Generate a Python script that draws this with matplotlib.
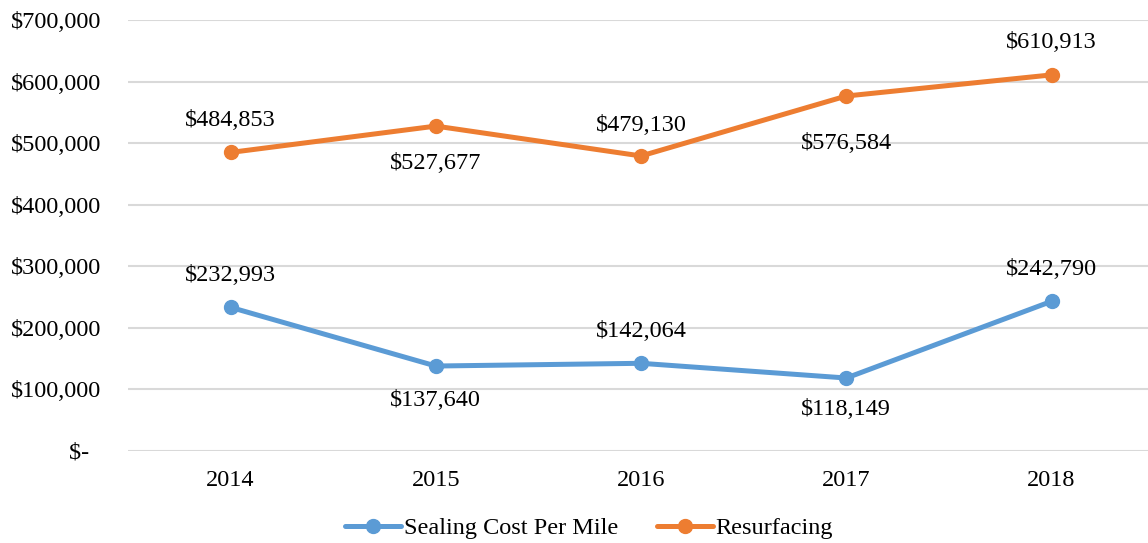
import matplotlib.pyplot as plt
from matplotlib.ticker import FuncFormatter

years = ["2014", "2015", "2016", "2017", "2018"]
sealing = [232993, 137640, 142064, 118149, 242790]
resurfacing = [484853, 527677, 479130, 576584, 610913]

# label offsets in points (above / below each marker)
sealing_offsets = [23, -25, 23, -23, 23]
resurfacing_offsets = [23, -27, 22, -34, 23]

plt.rcParams["font.family"] = ["Liberation Serif", "DejaVu Serif"]
plt.rcParams["font.size"] = 17.5

BLUE = "#5B9BD5"
ORANGE = "#ED7D31"

fig = plt.figure(figsize=(11.48, 5.43), dpi=100)
ax = fig.add_axes([0.1115, 0.170, 0.8885, 0.793])

x = list(range(len(years)))
ax.plot(x, sealing, color=BLUE, lw=3.6, marker="o", markersize=10,
        label="Sealing Cost Per Mile", solid_capstyle="round", zorder=3)
ax.plot(x, resurfacing, color=ORANGE, lw=3.6, marker="o", markersize=10,
        label="Resurfacing", solid_capstyle="round", zorder=3)

for xi, v, off in zip(x, sealing, sealing_offsets):
    ax.annotate(f"${v:,}", (xi, v), xytext=(0, off), textcoords="offset points",
                ha="center", va="center")
for xi, v, off in zip(x, resurfacing, resurfacing_offsets):
    ax.annotate(f"${v:,}", (xi, v), xytext=(0, off), textcoords="offset points",
                ha="center", va="center")

ax.set_ylim(0, 700000)
ax.set_xlim(-0.5, 4.47)
ax.set_yticks(range(0, 700001, 100000))
ax.yaxis.set_major_formatter(FuncFormatter(
    lambda v, p: "$-  " if v == 0 else f"${v:,.0f}"))
ax.set_xticks(x)
ax.set_xticklabels(years)
ax.tick_params(axis="both", length=0)
ax.tick_params(axis="y", pad=19)
ax.tick_params(axis="x", pad=14)

ax.grid(axis="y", color="#D9D9D9", lw=1.5)
ax.set_axisbelow(True)
for s in ax.spines.values():
    s.set_visible(False)

fig.legend(loc="center", bbox_to_anchor=(0.513, 0.027), ncol=2, frameon=False,
           handlelength=2.3, columnspacing=1.6, handletextpad=0.1)

fig.savefig("out.png", dpi=100)
